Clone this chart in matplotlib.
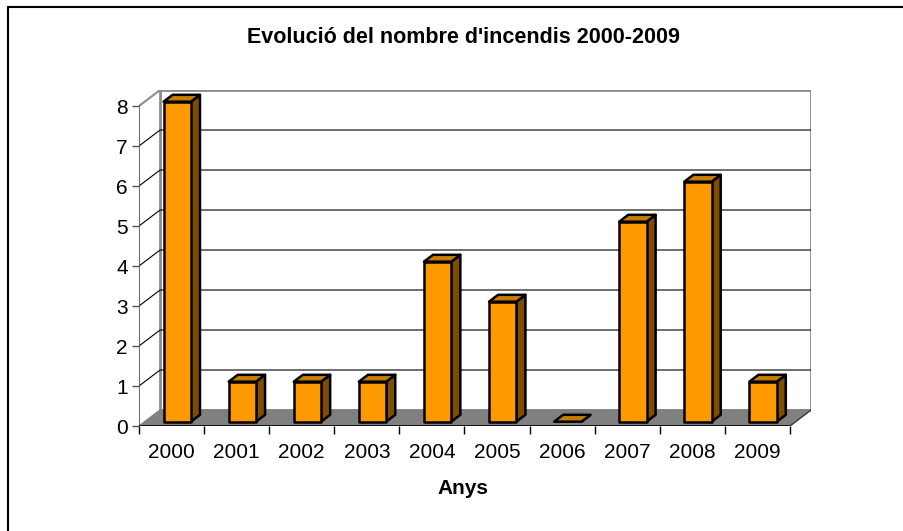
import matplotlib.pyplot as plt
from matplotlib.patches import Polygon, Rectangle

plt.rcParams['font.family'] = ['Liberation Sans', 'DejaVu Sans']

years = ['2000', '2001', '2002', '2003', '2004', '2005', '2006', '2007', '2008', '2009']
fires = [8, 1, 1, 1, 4, 3, 0, 5, 6, 1]
yticks = [0, 1, 2, 3, 4, 5, 6, 7, 8]

title = "Evolució del nombre d'incendis 2000-2009"
xlabel = 'Anys'

# fake 3d depth, in data units
DX, DY = 0.324, 0.4
d1, d2 = 0.27, 0.70
half = 0.21
ymax = 8
n = len(years)

W, H = 904, 531
fig = plt.figure(figsize=(9.04, 5.31), dpi=100)
fig.patches.append(Rectangle((8 / W, -0.2), 1.2, 1.2 - 7 / H, transform=fig.transFigure,
                             fill=False, edgecolor='black', linewidth=1.5))

ax = fig.add_axes([139 / W, (H - 426) / H, 672 / W, 336 / H])
ax.set_xlim(0, n + DX)
ax.set_ylim(0, ymax + DY)
for s in ax.spines.values():
    s.set_visible(False)
ax.patch.set_visible(False)

# walls and floor
ax.add_patch(Polygon([(0, 0), (DX, DY), (DX, ymax + DY), (0, ymax)], closed=True,
                     facecolor='white', edgecolor='none', zorder=1))
ax.add_patch(Rectangle((DX, DY), n, ymax, facecolor='white', edgecolor='#8c8c8c',
                       linewidth=2, zorder=1))
ax.add_patch(Polygon([(0, 0), (n, 0), (n + DX, DY), (DX, DY)], closed=True,
                     facecolor='#808080', edgecolor='#808080', linewidth=1, zorder=2))
for k in yticks[1:-1]:
    ax.plot([0, DX, n + DX], [k, k + DY, k + DY], color='black', linewidth=0.8, zorder=2)
ax.plot([0, DX], [ymax, ymax + DY], color='#8c8c8c', linewidth=1.5, zorder=2)
ax.plot([0, 0], [0, ymax], color='#505050', linewidth=1.2, zorder=3)
ax.plot([0, n], [0, 0], color='black', linewidth=1.2, zorder=3)
ax.plot([n, n + DX], [0, DY], color='#404040', linewidth=1, zorder=3)

# bars
kw = dict(edgecolor='black', linewidth=1.8, joinstyle='round', zorder=5)
for i, v in enumerate(fires):
    c = i + 0.5
    x0, x1 = c - half + d1 * DX, c + half + d1 * DX
    y0 = d1 * DY
    bx, by = (d2 - d1) * DX, (d2 - d1) * DY
    ax.add_patch(Polygon([(x1, y0), (x1 + bx, y0 + by), (x1 + bx, y0 + v + by), (x1, y0 + v)],
                         closed=True, facecolor='#7f4c00', **kw))
    ax.add_patch(Polygon([(x0, y0 + v), (x1, y0 + v), (x1 + bx, y0 + v + by), (x0 + bx, y0 + v + by)],
                         closed=True, facecolor='#c87d00', **kw))
    if v > 0:
        ax.bar(x0, v, width=x1 - x0, bottom=y0, align='edge', color='#ff9900', **kw)

ax.set_yticks(yticks)
ax.set_yticklabels([str(t) for t in yticks], fontsize=15)
ax.tick_params(axis='y', length=5, width=1, color='#505050', pad=3)
ax.set_xticks([i + 0.5 for i in range(n)])
ax.set_xticklabels(years, fontsize=15)
ax.set_xticks(range(n + 1), minor=True)
ax.tick_params(axis='x', which='major', length=0, pad=12)
ax.tick_params(axis='x', which='minor', length=6, width=1, color='black')

fig.text(463 / W, 1 - 37 / H, title, ha='center', va='center', fontsize=15.5, fontweight='bold')
fig.text(463 / W, 1 - 489 / H, xlabel, ha='center', va='center', fontsize=15, fontweight='bold')

fig.savefig('out.png', dpi=100)
